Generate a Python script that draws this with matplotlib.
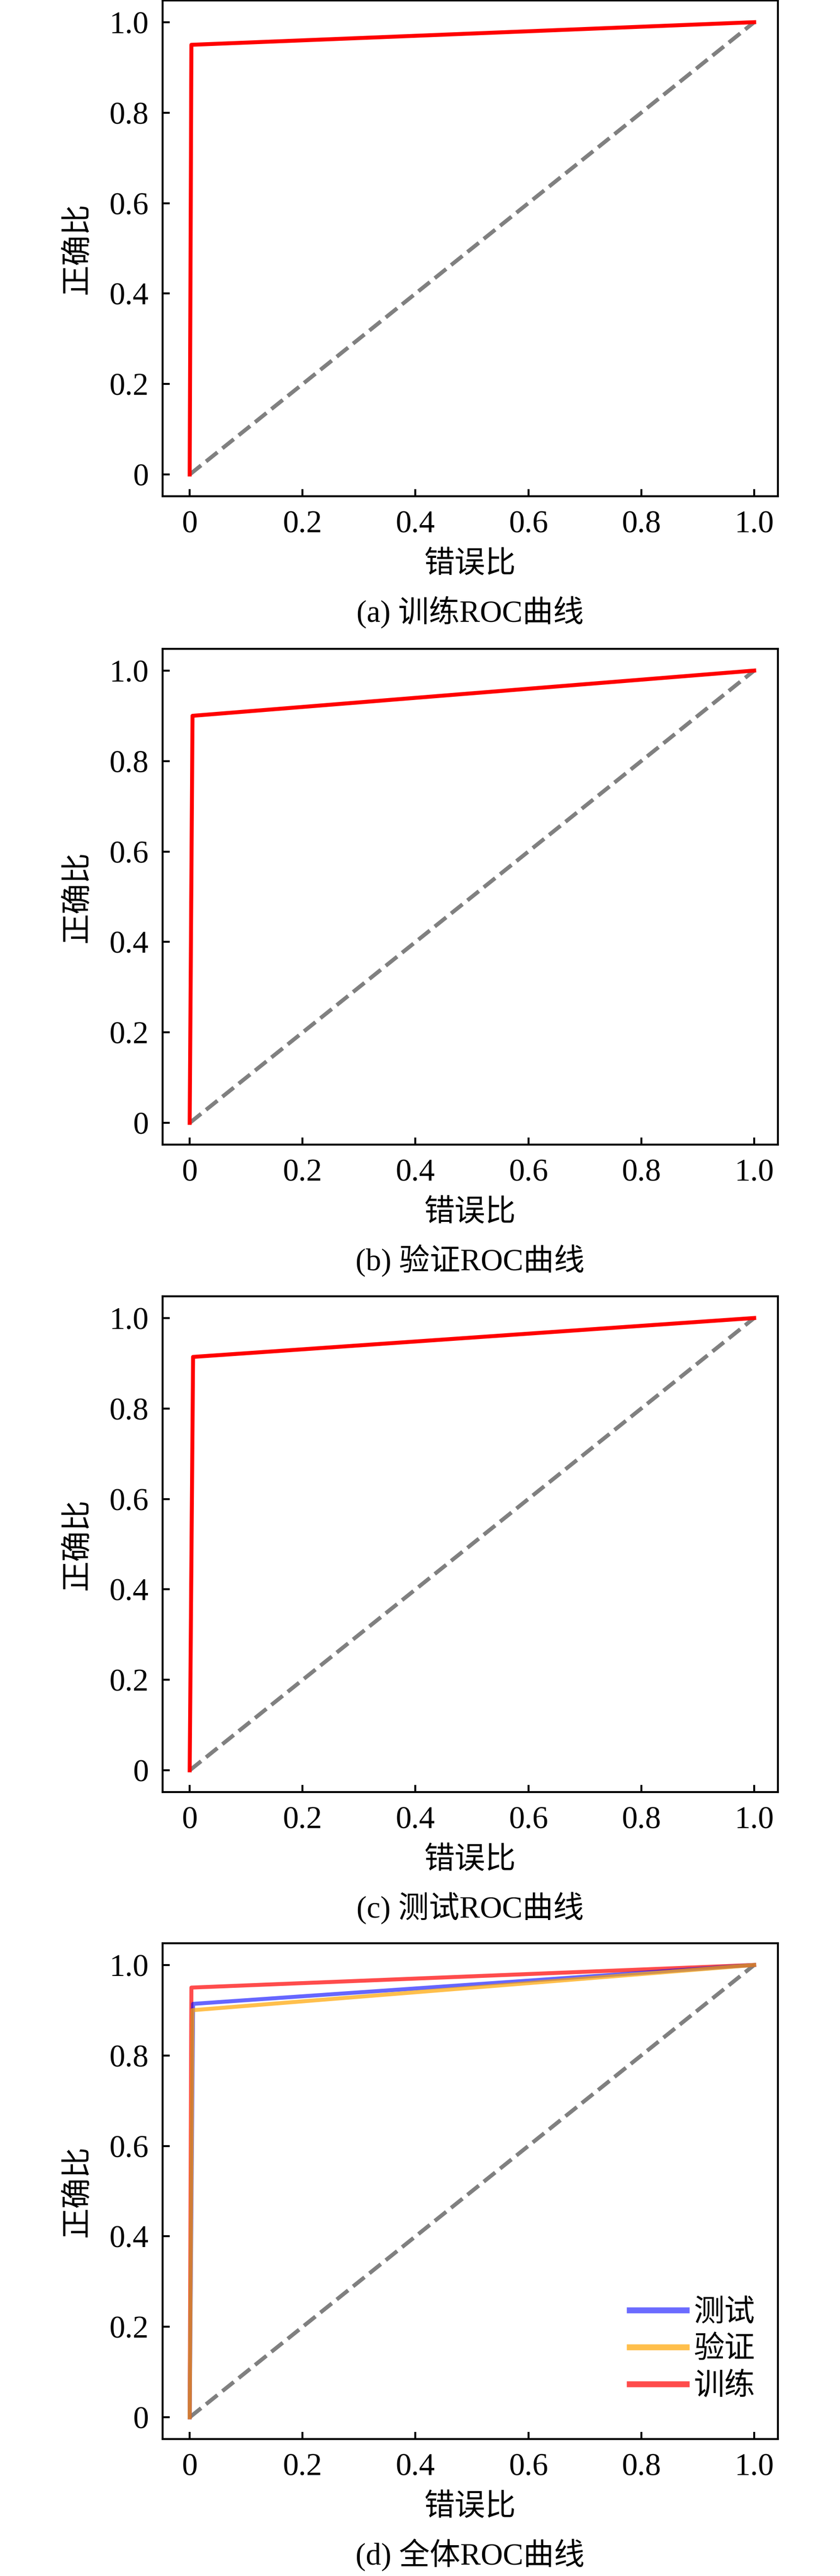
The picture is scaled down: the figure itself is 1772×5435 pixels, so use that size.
import matplotlib
matplotlib.use("Agg")
import matplotlib.pyplot as plt
from matplotlib.lines import Line2D

plt.rcParams['font.family'] = ['Liberation Serif', 'Noto Sans CJK SC', 'DejaVu Sans']
plt.rcParams['axes.unicode_minus'] = False

# ---- data ----
fpr_train = [0.0, 0.003, 1.0]
tpr_train = [0.0, 0.95, 1.0]
fpr_val = [0.0, 0.005, 1.0]
tpr_val = [0.0, 0.90, 1.0]
fpr_test = [0.0, 0.006, 1.0]
tpr_test = [0.0, 0.914, 1.0]
diag = [0.0, 1.0]

tick_vals = [0, 0.2, 0.4, 0.6, 0.8, 1.0]
tick_labels = ['0', '0.2', '0.4', '0.6', '0.8', '1.0']
xlabel = '错误比'
ylabel = '正确比'
captions = ['(a) 训练ROC曲线', '(b) 验证ROC曲线', '(c) 测试ROC曲线', '(d) 全体ROC曲线']
legend_labels = ['测试', '验证', '训练']

W, H = 1772, 5435
DPI = 300
fig = plt.figure(figsize=(W / DPI, H / DPI), dpi=DPI)

FS = 15.5
left_px, right_px = 343, 1641
ax_h_px = 1046
tops_px = [1, 1369, 2735, 4100]

axes = []
for top in tops_px:
    y0 = 1 - (top + ax_h_px) / H
    ax = fig.add_axes([left_px / W, y0, (right_px - left_px) / W, ax_h_px / H])
    axes.append(ax)

for i, ax in enumerate(axes):
    ax.set_xlim(-0.048, 1.042)
    ax.set_ylim(-0.048, 1.048)
    ax.set_xticks(tick_vals)
    ax.set_xticklabels(tick_labels)
    ax.set_yticks(tick_vals)
    ax.set_yticklabels(tick_labels)
    ax.tick_params(direction='in', length=3.6, width=1.0, labelsize=FS + 0.5, pad=7,
                   top=False, right=False)
    for s in ax.spines.values():
        s.set_linewidth(1.0)
        s.set_color('black')
    ax.set_xlabel(xlabel, fontsize=FS)
    ax.set_ylabel(ylabel, fontsize=FS)
    ax.xaxis.set_label_coords(0.5, -0.139)
    ax.xaxis.label.set_va('center')
    ax.yaxis.set_label_coords(-0.137, 0.5)
    ax.yaxis.label.set_va('center')
    ax.text(0.5, -0.234, captions[i], transform=ax.transAxes, ha='center', va='center',
            fontsize=FS)
    ax.plot(diag, diag, color='#808080', lw=2, ls='--', zorder=1)

axes[0].plot(fpr_train, tpr_train, color='#ff0000', lw=2, zorder=2)
axes[1].plot(fpr_val, tpr_val, color='#ff0000', lw=2, zorder=2)
axes[2].plot(fpr_test, tpr_test, color='#ff0000', lw=2, zorder=2)

axd = axes[3]
axd.plot(fpr_train, tpr_train, color='red', alpha=0.7, lw=2, zorder=2)
axd.plot(fpr_test, tpr_test, color='blue', alpha=0.6, lw=2, zorder=3)
axd.plot(fpr_val, tpr_val, color='orange', alpha=0.7, lw=2, zorder=4)

handles = [Line2D([], [], color='blue', alpha=0.58, lw=3),
           Line2D([], [], color='orange', alpha=0.7, lw=3),
           Line2D([], [], color='red', alpha=0.7, lw=3)]
axd.legend(handles, legend_labels, loc='lower right', bbox_to_anchor=(0.963, 0.076),
           frameon=False, fontsize=FS, handlelength=1.85, handletextpad=0.25,
           labelspacing=0.28, borderpad=0, borderaxespad=0)

fig.savefig('out.png', dpi=DPI)
